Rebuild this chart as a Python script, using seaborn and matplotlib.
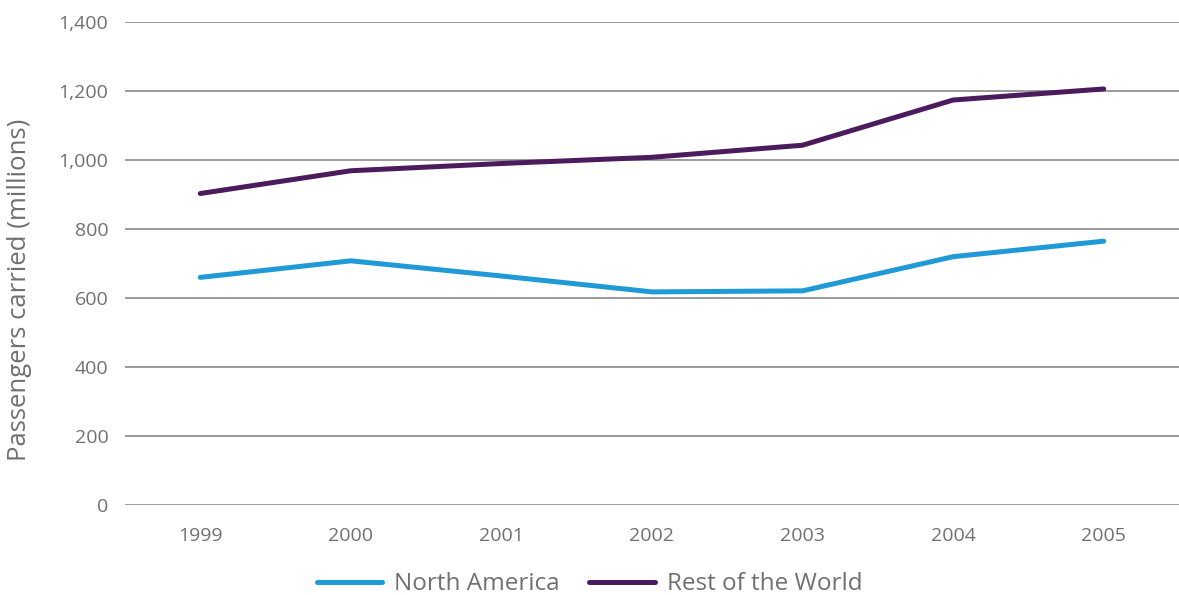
import matplotlib
matplotlib.use("Agg")
import matplotlib.pyplot as plt
import seaborn as sns
import pandas as pd
from matplotlib.lines import Line2D

years = ["1999", "2000", "2001", "2002", "2003", "2004", "2005"]
north_america = [660, 708, 664, 618, 621, 720, 765]
rest_of_world = [903, 969, 990, 1008, 1043, 1174, 1206]
series_names = ["North America", "Rest of the World"]
colors = ["#1f9ad6", "#4c1b5e"]

df = pd.DataFrame({
    "year": years * 2,
    "value": north_america + rest_of_world,
    "series": [series_names[0]] * len(years) + [series_names[1]] * len(years),
})
df["x"] = df["year"].map({y: i for i, y in enumerate(years)})

sns.set_theme(style="white")
plt.rcParams["font.family"] = ["Open Sans", "DejaVu Sans"]

fig = plt.figure(figsize=(11.79, 5.95), dpi=100)
ax = fig.add_axes([0.106, 0.151, 0.894, 0.812])

sns.lineplot(data=df, x="x", y="value", hue="series", palette=colors,
             linewidth=3.6, ax=ax, legend=False, solid_capstyle="round")

ax.set_xlim(-0.5, 6.5)
ax.set_ylim(0, 1400)
ax.set_xticks(range(len(years)))
ax.set_xticklabels(years)
ax.set_yticks(range(0, 1401, 200))
ax.set_yticklabels([f"{v:,}" for v in range(0, 1401, 200)])
ax.grid(axis="y", color="#808080", linewidth=1.1)
ax.grid(axis="x", visible=False)
ax.set_axisbelow(True)
for s in ax.spines.values():
    s.set_visible(False)
ax.tick_params(axis="both", length=0, colors="#707070", labelsize=14)
ax.tick_params(axis="y", pad=12)
ax.tick_params(axis="x", pad=16)
ax.set_xlabel("")
ax.set_ylabel("Passengers carried (millions)", fontsize=18.5, color="#707070")
ax.yaxis.set_label_coords(-0.088, 0.445)

handles = [Line2D([0], [0], color=c, lw=3.6, solid_capstyle="round") for c in colors]
fig.legend(handles, series_names, loc="center", bbox_to_anchor=(0.5, 0.018),
           ncol=2, frameon=False, fontsize=17.5, labelcolor="#707070",
           handlelength=2.7, columnspacing=1.2, handletextpad=0.5)

fig.savefig("out.png", dpi=100)
